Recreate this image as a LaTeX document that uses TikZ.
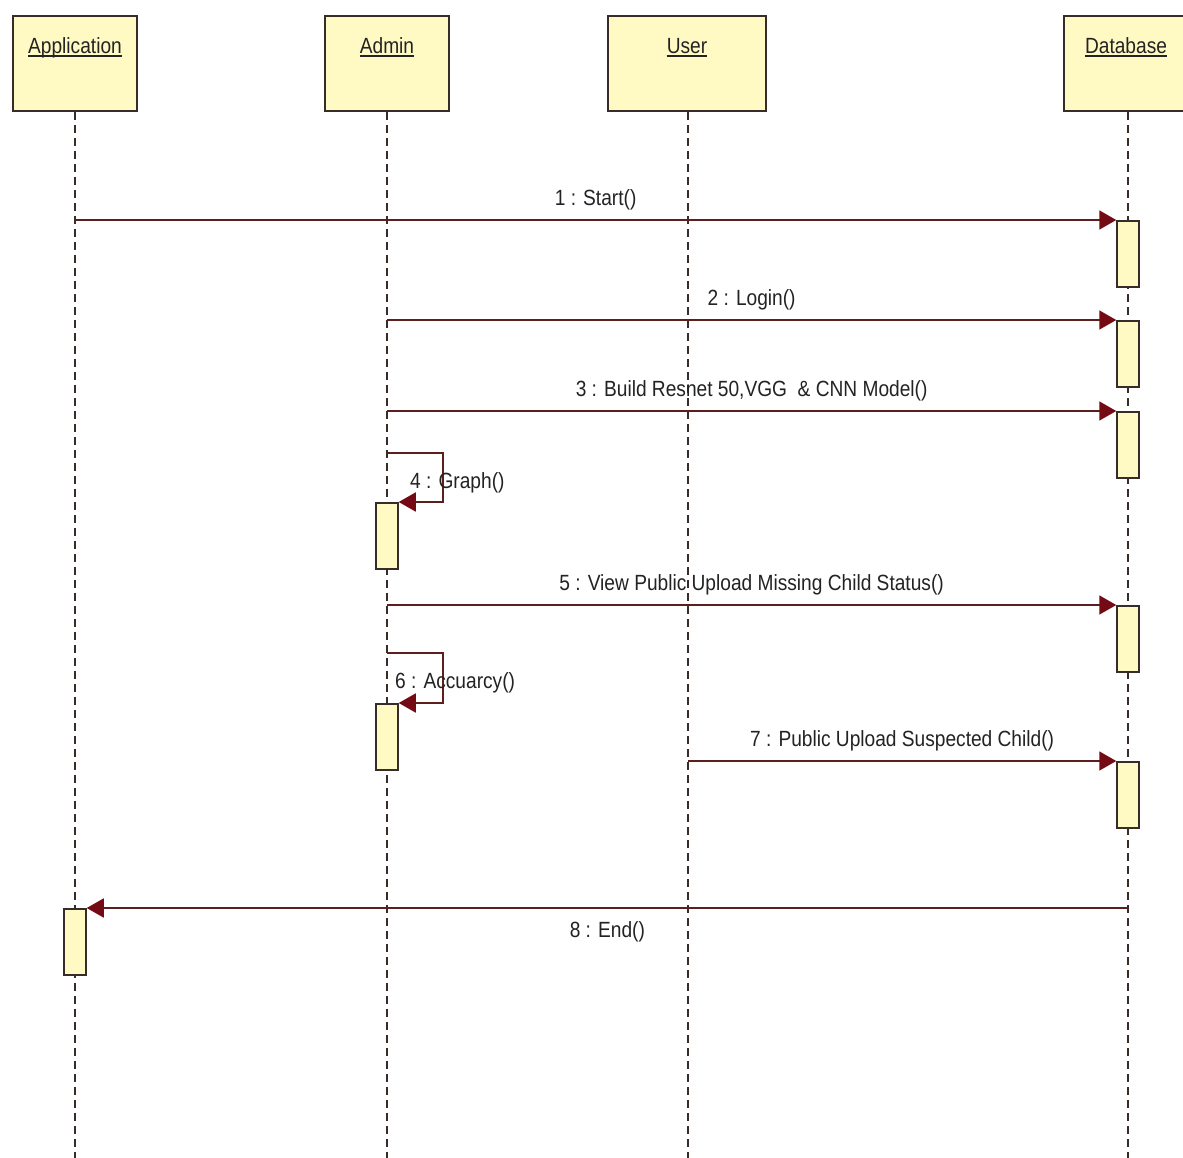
\documentclass[tikz,border=0pt]{standalone}
\usepackage{fontspec}
\setmainfont{Liberation Sans}[FakeStretch=0.87]
\usetikzlibrary{arrows.meta}
\definecolor{boxfill}{RGB}{255,250,196}
\definecolor{boxline}{RGB}{55,45,40}
\definecolor{msgline}{RGB}{95,30,30}
\definecolor{tipred}{RGB}{115,10,20}
\definecolor{txt}{RGB}{35,35,35}
\newcommand\myul[1]{\setbox0\hbox{#1}\rlap{\rule[-4pt]{\wd0}{1.8pt}}\box0}
\begin{document}
\begin{tikzpicture}[x=1pt,y=-1pt,
  headbox/.style={draw=boxline,fill=boxfill,line width=1.8pt,minimum height=95pt,inner sep=0pt},
  headtext/.style={anchor=base,text=txt,inner sep=0pt,font=\fontsize{22}{26}\selectfont},
  life/.style={draw=boxline,line width=1.4pt,dash pattern=on 8pt off 5pt},
  actbox/.style={draw=boxline,fill=boxfill,line width=1.5pt,minimum width=22pt,minimum height=66pt,inner sep=0pt,anchor=north},
  msg/.style={draw=msgline,line width=1.8pt,-{Triangle[length=17pt,width=19pt,color=tipred]}},
  lbl/.style={text=txt,inner sep=0pt,font=\fontsize{22}{26}\selectfont}]
\useasboundingbox (0,0) rectangle (1183,1157);
\clip (0,0) rectangle (1183,1157);
\fill[white] (0,0) rectangle (1183,1157);

% heads
\node[headbox,minimum width=124pt] (app) at (75,63.5) {};
\node[headbox,minimum width=124pt] (admin) at (387,63.5) {};
\node[headbox,minimum width=158pt] (user) at (687,63.5) {};
\node[headbox,minimum width=128pt] (db) at (1128,63.5) {};
\node[headtext] (appT) at (75,53) {\myul{Application}};
\node[headtext] (adminT) at (387,53) {\myul{Admin}};
\node[headtext] (userT) at (687,53) {\myul{User}};
\node[headtext] (dbT) at (1126,53) {\myul{Database}};

% lifeline ends
\coordinate (appE) at (75,1160);
\coordinate (adminE) at (387,1160);
\coordinate (userE) at (688,1160);
\coordinate (dbE) at (1128,1160);
\draw[life] (app.south) -- (appE);
\draw[life] (admin.south) -- (adminE);
\draw[life] (user.south -| userE) -- (userE);
\draw[life] (db.south) -- (dbE);

% activations
\node[actbox] (a1) at (1128,220) {};
\node[actbox] (a2) at (1128,320) {};
\node[actbox] (a3) at (1128,411) {};
\node[actbox] (a4) at (387,502) {};
\node[actbox] (a5) at (1128,605) {};
\node[actbox] (a6) at (387,703) {};
\node[actbox] (a7) at (1128,761) {};
\node[actbox] (a8) at (75,908) {};

% messages
\draw[msg] (a1.north west -| app) -- node[lbl,midway,anchor=base,yshift=15pt] (l1) {1 : Start()} (a1.north west);
\draw[msg] (a2.north west -| admin) -- node[lbl,midway,anchor=base,yshift=15pt] (l2) {2 : Login()} (a2.north west);
\draw[msg] (a3.north west -| admin) -- node[lbl,midway,anchor=base,yshift=15pt] (l3) {3 : Build Resnet 50,VGG\ \ \& CNN Model()} (a3.north west);
\coordinate (s4) at (387,453);
\draw[msg] (s4) -- ++(56,0) |- (a4.north east);
\node[lbl,anchor=base west] (l4) at (410,488) {4 : Graph()};
\draw[msg] (a5.north west -| admin) -- node[lbl,midway,anchor=base,yshift=15pt] (l5) {5 : View Public Upload Missing Child Status()} (a5.north west);
\coordinate (s6) at (387,653);
\draw[msg] (s6) -- ++(56,0) |- (a6.north east);
\node[lbl,anchor=base west] (l6) at (395,688) {6 : Accuarcy()};
\draw[msg] (a7.north west -| userE) -- node[lbl,midway,anchor=base,yshift=15pt] (l7) {7 : Public Upload Suspected Child()} (a7.north west);
\draw[msg] (a8.north east -| dbE) -- node[lbl,midway,anchor=base,yshift=-29pt] (l8) {8 : End()} (a8.north east);
\end{tikzpicture}
\end{document}
